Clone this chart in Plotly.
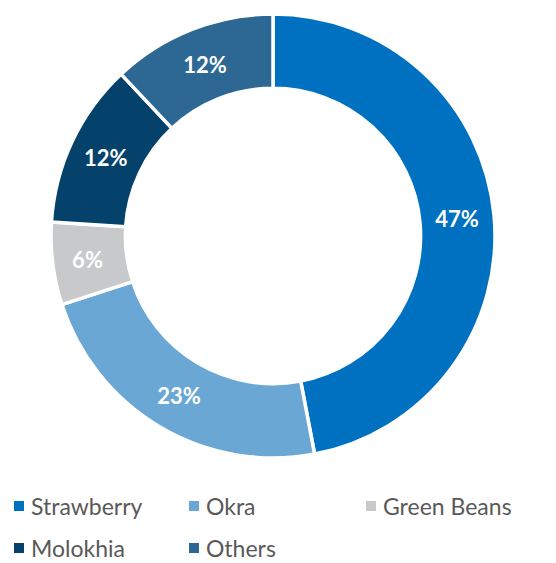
import plotly.graph_objects as go

categories = ["Strawberry", "Okra", "Green Beans", "Molokhia", "Others"]
values = [47, 23, 6, 12, 12]
colors = ["#0070C0", "#6AA7D4", "#C8C9CB", "#04416B", "#2C6893"]

W, H = 556, 563

fig = go.Figure()
fig.add_trace(go.Pie(
    labels=categories,
    values=values,
    hole=0.665,
    sort=False,
    direction="clockwise",
    rotation=0,
    marker=dict(colors=colors, line=dict(color="white", width=3.5)),
    texttemplate="%{percent:.0%}",
    textposition="inside",
    insidetextorientation="horizontal",
    textfont=dict(family="Lato", size=22, color="white", weight="bold"),
    domain=dict(x=[51 / W, 495 / W], y=[(H - 458) / H, (H - 14) / H]),
    showlegend=False,
    hoverinfo="label+percent",
))

# Manual legend (two rows, matching the reference layout)
legend_pos = [(14, 506), (189, 506), (366, 506), (14, 548), (189, 548)]
shapes = []
annotations = []
for (x, y), name, col in zip(legend_pos, categories, colors):
    shapes.append(dict(type="rect", xref="paper", yref="paper",
                       x0=x / W, x1=(x + 10) / W,
                       y0=(H - y - 5) / H, y1=(H - y + 5) / H,
                       fillcolor=col, line=dict(width=0)))
    annotations.append(dict(text=name, xref="paper", yref="paper",
                            x=(x + 15) / W, y=(H - y) / H,
                            xanchor="left", yanchor="middle", showarrow=False,
                            font=dict(family="Lato", size=23, color="#595959")))

fig.update_layout(
    width=W, height=H,
    margin=dict(l=0, r=0, t=0, b=0),
    paper_bgcolor="white",
    plot_bgcolor="white",
    shapes=shapes,
    annotations=annotations,
)

fig.write_html("out.html", config={"displayModeBar": False},
               post_script="document.body.style.margin='0';document.body.style.overflow='hidden';")
